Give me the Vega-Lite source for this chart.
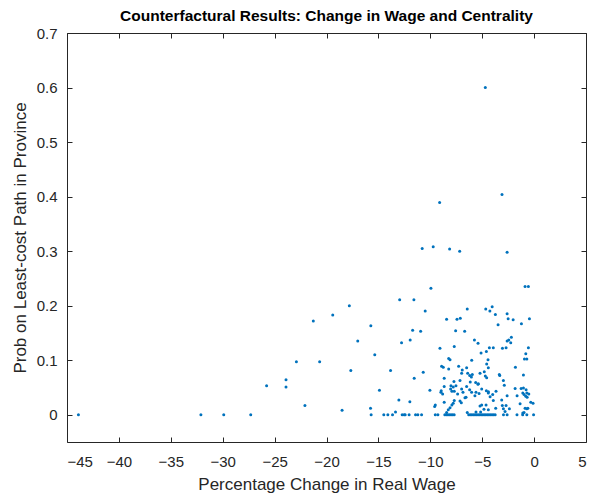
{
  "$schema": "https://vega.github.io/schema/vega-lite/v6.json",
  "width": 519,
  "height": 409,
  "autosize": "none",
  "padding": {"left": 67, "top": 33, "right": 9, "bottom": 53},
  "background": "white",
  "title": {"text": "Counterfactural Results: Change in Wage and Centrality", "font": "Liberation Sans", "fontSize": 15.5, "fontWeight": "bold", "color": "#000000", "offset": 2, "anchor": "middle"},
  "config": {
    "view": {"stroke": "#262626", "strokeWidth": 1},
    "axis": {"grid": false, "domain": false, "tickColor": "#262626", "tickSize": -5, "labelColor": "#262626", "labelFont": "Liberation Sans", "labelFontSize": 15, "titleFont": "Liberation Sans", "titleFontSize": 17, "titleColor": "#262626", "titleFontWeight": "normal"}
  },
  "data": {"values": [
    {"x": -43.9, "y": 0}, {"x": -32.1, "y": 0}, {"x": -29.9, "y": 0}, {"x": -27.3, "y": 0},
    {"x": -25.77, "y": 0.053}, {"x": -23.9, "y": 0.064}, {"x": -23.9, "y": 0.051}, {"x": -22.9, "y": 0.097}, {"x": -22.08, "y": 0.017}, {"x": -21.27, "y": 0.172}, {"x": -20.66, "y": 0.097}, {"x": -19.4, "y": 0.183}, {"x": -18.5, "y": 0.008}, {"x": -17.8, "y": 0.2}, {"x": -17.66, "y": 0.081}, {"x": -16.99, "y": 0.135}, {"x": -15.73, "y": 0.163}, {"x": -15.76, "y": 0.012}, {"x": -15.7, "y": 0}, {"x": -15.35, "y": 0.11}, {"x": -14.9, "y": 0.045}, {"x": -14.48, "y": 0}, {"x": -14.09, "y": 0}, {"x": -13.64, "y": 0}, {"x": -13.83, "y": 0.081}, {"x": -13.35, "y": 0.005}, {"x": -13.03, "y": 0.027}, {"x": -12.95, "y": 0.211},
    {"x": -4.7, "y": 0.6}, {"x": -3.09, "y": 0.404}, {"x": -9.1, "y": 0.389}, {"x": -10.78, "y": 0.305}, {"x": -9.72, "y": 0.308}, {"x": -8.14, "y": 0.304}, {"x": -7.17, "y": 0.3}, {"x": -2.6, "y": 0.298},
    {"x": -0.87, "y": 0.235}, {"x": -0.55, "y": 0.235}, {"x": -9.94, "y": 0.232}, {"x": -11.58, "y": 0.211}, {"x": -10.49, "y": 0.19}, {"x": -6.44, "y": 0.194}, {"x": -4.66, "y": 0.194}, {"x": -4.26, "y": 0.19}, {"x": -4.04, "y": 0.198}, {"x": -3.73, "y": 0.184}, {"x": -2.6, "y": 0.185}, {"x": -2.5, "y": 0.176}, {"x": -2.02, "y": 0.174}, {"x": -3.47, "y": 0.165}, {"x": -1.22, "y": 0.167}, {"x": -0.45, "y": 0.176}, {"x": -8.43, "y": 0.175}, {"x": -7.43, "y": 0.175}, {"x": -7.11, "y": 0.177}, {"x": -7.56, "y": 0.154}, {"x": -6.69, "y": 0.153}, {"x": -11.7, "y": 0.155}, {"x": -10.93, "y": 0.153}, {"x": -12.77, "y": 0.132}, {"x": -11.94, "y": 0.137}, {"x": -5.75, "y": 0.137}, {"x": -5.4, "y": 0.131}, {"x": -2.6, "y": 0.135}, {"x": -2.44, "y": 0.137}, {"x": -2.19, "y": 0.142}, {"x": -2.25, "y": 0.132}, {"x": -9.07, "y": 0.122}, {"x": -7.69, "y": 0.125}, {"x": -5.11, "y": 0.113}, {"x": -4.6, "y": 0.116}, {"x": -4.31, "y": 0.123}, {"x": -3.93, "y": 0.123}, {"x": -3.05, "y": 0.122}, {"x": -2.7, "y": 0.123}, {"x": -0.55, "y": 0.123}, {"x": -0.8, "y": 0.112}, {"x": -0.93, "y": 0.102}, {"x": -0.7, "y": 0.102}, {"x": -8.23, "y": 0.103}, {"x": -8.1, "y": 0.101}, {"x": -6.01, "y": 0.1}, {"x": -4.44, "y": 0.101},
    {"x": -11.55, "y": 0.067}, {"x": -10.68, "y": 0.078}, {"x": -8.91, "y": 0.089}, {"x": -8.75, "y": 0.087}, {"x": -8.23, "y": 0.084}, {"x": -7.27, "y": 0.089}, {"x": -6.92, "y": 0.082}, {"x": -6.5, "y": 0.086}, {"x": -6.98, "y": 0.076}, {"x": -6.2, "y": 0.072}, {"x": -6.04, "y": 0.069}, {"x": -5.21, "y": 0.076}, {"x": -4.7, "y": 0.071}, {"x": -4.57, "y": 0.068}, {"x": -3.35, "y": 0.074}, {"x": -8.66, "y": 0.067}, {"x": -7.14, "y": 0.063}, {"x": -8.01, "y": 0.053}, {"x": -7.79, "y": 0.051}, {"x": -7.53, "y": 0.053}, {"x": -8.66, "y": 0.052}, {"x": -6.15, "y": 0.06}, {"x": -5.63, "y": 0.059}, {"x": -5.41, "y": 0.056}, {"x": -6.5, "y": 0.052}, {"x": -5.05, "y": 0.047}, {"x": -4.6, "y": 0.044}, {"x": -4.4, "y": 0.042}, {"x": -3.67, "y": 0.043}, {"x": -8.95, "y": 0.044}, {"x": -8.81, "y": 0.038}, {"x": -8.04, "y": 0.047}, {"x": -7.92, "y": 0.043}, {"x": -7.69, "y": 0.043}, {"x": -7.37, "y": 0.038}, {"x": -6.98, "y": 0.047}, {"x": -6.85, "y": 0.041}, {"x": -6.21, "y": 0.046}, {"x": -6.02, "y": 0.041}, {"x": -5.6, "y": 0.041}, {"x": -5.7, "y": 0.035}, {"x": -5.3, "y": 0.039}, {"x": -6.56, "y": 0.032}, {"x": -8.66, "y": 0.023}, {"x": -7.79, "y": 0.021}, {"x": -7.92, "y": 0.018}, {"x": -7.14, "y": 0.025}, {"x": -7.01, "y": 0.022}, {"x": -5.21, "y": 0.016}, {"x": -4.63, "y": 0.018}, {"x": -4.24, "y": 0.033}, {"x": -3.99, "y": 0.037}, {"x": -3.12, "y": 0.027}, {"x": -3.06, "y": 0.017}, {"x": -2.7, "y": 0.017}, {"x": -2.38, "y": 0.011}, {"x": -2.96, "y": 0.011}, {"x": -2.8, "y": 0.006}, {"x": -3.93, "y": 0.026}, {"x": -9.52, "y": 0.018}, {"x": -8.1, "y": 0.013}, {"x": -8.27, "y": 0.009}, {"x": -8.43, "y": 0.004}, {"x": -4.83, "y": 0.01}, {"x": -5.6, "y": 0.005}, {"x": -3.7, "y": 0.012}, {"x": -2.6, "y": 0.035}, {"x": -1.8, "y": 0.087}, {"x": -1.83, "y": 0.048}, {"x": -1.64, "y": 0.035}, {"x": -1.35, "y": 0.02}, {"x": -1.25, "y": 0.048}, {"x": -1.03, "y": 0.049}, {"x": -0.77, "y": 0.046}, {"x": -1.09, "y": 0.04}, {"x": -0.97, "y": 0.037}, {"x": -0.7, "y": 0.04}, {"x": -0.51, "y": 0.038}, {"x": -1.03, "y": 0.073}, {"x": -0.8, "y": 0.034}, {"x": -0.67, "y": 0.032}, {"x": -0.32, "y": 0.023}, {"x": -0.87, "y": 0.012}, {"x": -0.7, "y": 0.011}, {"x": -0.6, "y": 0.012}, {"x": -1.09, "y": 0.003}, {"x": -0.97, "y": 0.004}, {"x": -3.31, "y": 0.072}, {"x": -2.96, "y": 0.063}, {"x": -2.87, "y": 0.054},
    {"x": -10.04, "y": 0.045}, {"x": -11.97, "y": 0.024}, {"x": -9.58, "y": 0.015}, {"x": -4.8, "y": 0.079}, {"x": -4.57, "y": 0.093}, {"x": -4.41, "y": 0.086}, {"x": -6.4, "y": 0.076}, {"x": -5.95, "y": 0.074}, {"x": -7.72, "y": 0.061}, {"x": -5.37, "y": 0.057}, {"x": -8.98, "y": 0.041}, {"x": -6.66, "y": 0.031}, {"x": -7.69, "y": 0.026}, {"x": -5.05, "y": 0.018}, {"x": -6.44, "y": 0.004}, {"x": -5.15, "y": 0.005}, {"x": -4.41, "y": 0.009}, {"x": -4.41, "y": 0.04}, {"x": -0.1, "y": 0.021},
    {"x": -12.71, "y": 0}, {"x": -12.52, "y": 0}, {"x": -12.42, "y": 0}, {"x": -12.04, "y": 0}, {"x": -11.42, "y": 0}, {"x": -11.2, "y": 0}, {"x": -10.84, "y": 0}, {"x": -9.52, "y": 0}, {"x": -9.27, "y": 0}, {"x": -8.6, "y": 0}, {"x": -8.45, "y": 0}, {"x": -8.3, "y": 0}, {"x": -8.15, "y": 0}, {"x": -8.0, "y": 0}, {"x": -7.85, "y": 0}, {"x": -7.7, "y": 0}, {"x": -6.3, "y": 0}, {"x": -6.15, "y": 0}, {"x": -6.0, "y": 0}, {"x": -5.85, "y": 0}, {"x": -5.7, "y": 0}, {"x": -5.55, "y": 0}, {"x": -5.4, "y": 0}, {"x": -5.25, "y": 0}, {"x": -5.1, "y": 0}, {"x": -4.95, "y": 0}, {"x": -4.8, "y": 0}, {"x": -4.65, "y": 0}, {"x": -4.5, "y": 0}, {"x": -4.35, "y": 0}, {"x": -4.2, "y": 0}, {"x": -4.05, "y": 0}, {"x": -3.9, "y": 0}, {"x": -3.75, "y": 0}, {"x": -2.95, "y": 0}, {"x": -2.6, "y": 0}, {"x": -1.65, "y": 0}, {"x": -1.1, "y": 0}, {"x": -0.7, "y": 0}, {"x": -0.05, "y": 0}
  ]},
  "layer": [
    {
      "mark": {"type": "circle", "size": 9, "color": "#0072BD", "opacity": 1},
      "encoding": {
        "x": {"field": "x", "type": "quantitative", "scale": {"domain": [-45, 5], "nice": false, "zero": false}, "axis": {"values": [-45, -40, -35, -30, -25, -20, -15, -10, -5, 0, 5], "title": "Percentage Change in Real Wage", "labelPadding": 17, "titlePadding": 7}},
        "y": {"field": "y", "type": "quantitative", "scale": {"domain": [-0.05, 0.7], "nice": false, "zero": false}, "axis": {"values": [0, 0.1, 0.2, 0.3, 0.4, 0.5, 0.6, 0.7], "format": "~g", "title": "Prob on Least-cost Path in Province", "labelPadding": 15, "titlePadding": 7}}
      }
    },
    {
      "mark": {"type": "circle", "size": 0, "opacity": 0},
      "encoding": {
        "x": {"field": "x", "type": "quantitative", "axis": {"orient": "top", "values": [-45, -40, -35, -30, -25, -20, -15, -10, -5, 0, 5], "labels": false, "title": null}},
        "y": {"field": "y", "type": "quantitative", "axis": {"orient": "right", "values": [0, 0.1, 0.2, 0.3, 0.4, 0.5, 0.6, 0.7], "labels": false, "title": null}}
      }
    }
  ],
  "resolve": {"axis": {"x": "independent", "y": "independent"}}
}
